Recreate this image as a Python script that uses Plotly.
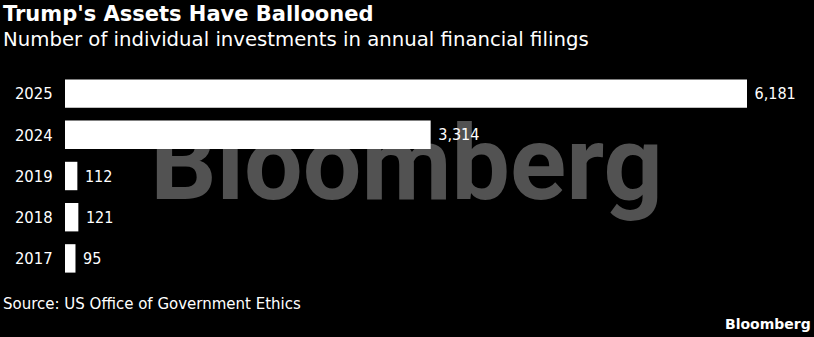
import plotly.graph_objects as go

years = ["2025", "2024", "2019", "2018", "2017"]
counts = [6181, 3314, 112, 121, 95]
count_labels = ["6,181", "3,314", "112", "121", "95"]

title = "Trump's Assets Have Ballooned"
subtitle = "Number of individual investments in annual financial filings"
source = "Source: US Office of Government Ethics"

COND = "DejaVu Sans Condensed, DejaVu Sans"
REG = "DejaVu Sans"
W, H = 814, 337
L, R = 65, 747
T, B = 72.7, 279.1

def px(x):
    return (x - L) / (R - L)

def py(y):
    return (B - y) / (B - T)

fig = go.Figure()
fig.add_trace(go.Bar(
    x=counts, y=years, orientation="h",
    marker=dict(color="#ffffff", line=dict(width=0)),
    text=[" " + s for s in count_labels], textposition="outside", cliponaxis=False,
    textfont=dict(family=COND, size=16, color="#ffffff"),
    hoverinfo="skip",
))

fig.update_layout(
    width=W, height=H,
    margin=dict(l=L, r=W - R, t=T, b=H - B, pad=0),
    paper_bgcolor="#000000", plot_bgcolor="rgba(0,0,0,0)",
    bargap=0.31, showlegend=False,
    font=dict(family=COND, color="#ffffff"),
    xaxis=dict(range=[0, 6181], visible=False, fixedrange=True),
    yaxis=dict(type="category", categoryorder="array", categoryarray=years,
               autorange="reversed", showgrid=False, zeroline=False, showline=False,
               ticks="outside", ticklen=8, tickcolor="rgba(0,0,0,0)",
               tickfont=dict(family=COND, size=16.5, color="#ffffff")),
    shapes=[dict(
        type="rect", xref="paper", yref="paper",
        x0=px(154), x1=px(659), y0=py(198), y1=py(112),
        line=dict(width=0), fillcolor="rgba(0,0,0,0)", layer="below",
        label=dict(text="Bloomberg", textposition="middle center",
                   font=dict(family="Roboto", size=104, color="#525252", weight=700)),
    )],
    annotations=[
        dict(text=f"<b>{title}</b>", xref="paper", yref="paper", x=px(1), y=py(14),
             xanchor="left", yanchor="middle", showarrow=False,
             font=dict(family=REG, size=21, color="#ffffff")),
        dict(text=subtitle, xref="paper", yref="paper", x=px(1), y=py(38.7),
             xanchor="left", yanchor="middle", showarrow=False,
             font=dict(family=REG, size=19.7, color="#ffffff")),
        dict(text=source, xref="paper", yref="paper", x=px(1), y=py(303.7),
             xanchor="left", yanchor="middle", showarrow=False,
             font=dict(family=REG, size=15, color="#ffffff")),
        dict(text="<b>Bloomberg</b>", xref="paper", yref="paper", x=px(813), y=py(324),
             xanchor="right", yanchor="middle", showarrow=False,
             font=dict(family=REG, size=14, color="#ffffff")),
    ],
)

fig.write_html("out.html")
